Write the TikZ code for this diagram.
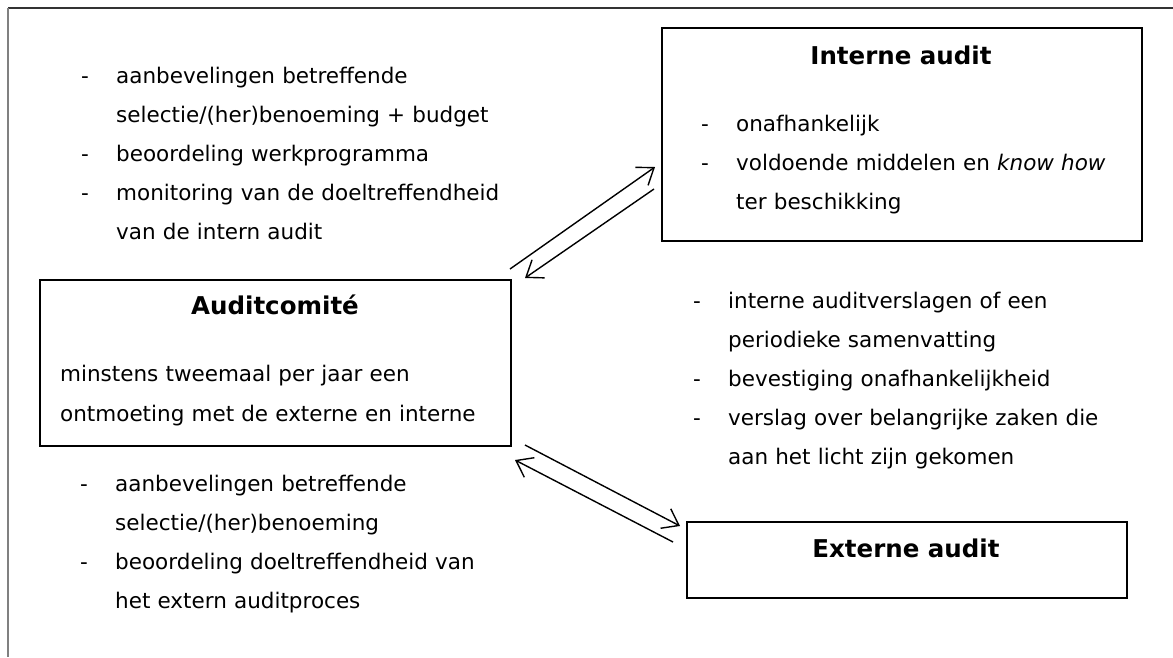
\documentclass[tikz,border=0pt]{standalone}
\usepackage{fontspec}
\setmainfont{DejaVu Sans}
\usetikzlibrary{arrows.meta,calc}
\newcommand{\streep}{\makebox[35pt][l]{-}}
\newcommand{\inspring}{\hspace*{35pt}}
\tikzset{
  kader/.style={draw,line width=2pt,inner sep=0pt,anchor=north west},
  titel/.style={font=\fontsize{24.5}{28}\selectfont\bfseries},
  lijst/.style={font=\fontsize{21.5}{39}\selectfont,anchor=base west,inner sep=0pt,text width=#1,align=left},
  pijl/.style={line width=1.4pt,-{Straight Barb[length=15pt,width=22pt,line width=1.4pt]}}
}
\begin{document}
\begin{tikzpicture}[x=1pt,y=-1pt]
	\useasboundingbox (0,0) rectangle (1173,657);
	%Rand
	\draw[black!80,line width=1.6pt] (8,8)--(1173,8);
	\draw[black!50,line width=1.6pt] (8,8)--(8,657);
	%Kader 1
	\node[kader,minimum width=480,minimum height=213] (intern) at (661,27) {};
	\node[titel] (interntitel) at (901,55) {Interne audit};
	\node[lijst=430pt] (internlijst) at (701,131) {\streep onafhankelijk\\
		\streep voldoende middelen en \textit{know how}\\
		\inspring ter beschikking};
	%Kader 2
	\node[kader,minimum width=471,minimum height=166] (comite) at (39,279) {};
	\node[titel] (comitetitel) at (275,305) {Auditcomité};
	\node[lijst=440pt,font=\fontsize{21.5}{40}\selectfont] (comitetekst) at (60,381) {minstens tweemaal per jaar een\\
		ontmoeting met de externe en interne};
	%Kader 3
	\node[kader,minimum width=440,minimum height=76] (extern) at (686,521) {};
	\node[titel] (externtitel) at (906,548) {Externe audit};
	%Lijsten
	\node[lijst=420pt] (lijstboven) at (81,83) {\streep aanbevelingen betreffende\\
		\inspring selectie/(her)benoeming + budget\\
		\streep beoordeling werkprogramma\\
		\streep monitoring van de doeltreffendheid\\
		\inspring van de intern audit};
	\node[lijst=420pt] (lijstmidden) at (693,308) {\streep interne auditverslagen of een\\
		\inspring periodieke samenvatting\\
		\streep bevestiging onafhankelijkheid\\
		\streep verslag over belangrijke zaken die\\
		\inspring aan het licht zijn gekomen};
	\node[lijst=420pt] (lijstonder) at (80,491) {\streep aanbevelingen betreffende\\
		\inspring selectie/(her)benoeming\\
		\streep beoordeling doeltreffendheid van\\
		\inspring het extern auditproces};
	%Pijlen boven
	\coordinate (p1a) at ([shift={(-2,-10)}]comite.north east);
	\coordinate (p1b) at ([shift={(-6,-75)}]intern.south west);
	\coordinate (p2a) at ([shift={(-7,-53)}]intern.south west);
	\coordinate (p2b) at ([shift={(13,-1)}]comite.north east);
	\draw[pijl] (p1a)--(p1b);
	\draw[pijl] (p2a)--(p2b);
	%Pijlen onder
	\coordinate (p3a) at ([shift={(13,-2)}]comite.south east);
	\coordinate (p3b) at ([shift={(-6,5)}]extern.north west);
	\coordinate (p4a) at ([shift={(-13,21)}]extern.north west);
	\coordinate (p4b) at ([shift={(3,13)}]comite.south east);
	\draw[pijl] (p3a)--(p3b);
	\draw[pijl] (p4a)--(p4b);
\end{tikzpicture}
\end{document}
